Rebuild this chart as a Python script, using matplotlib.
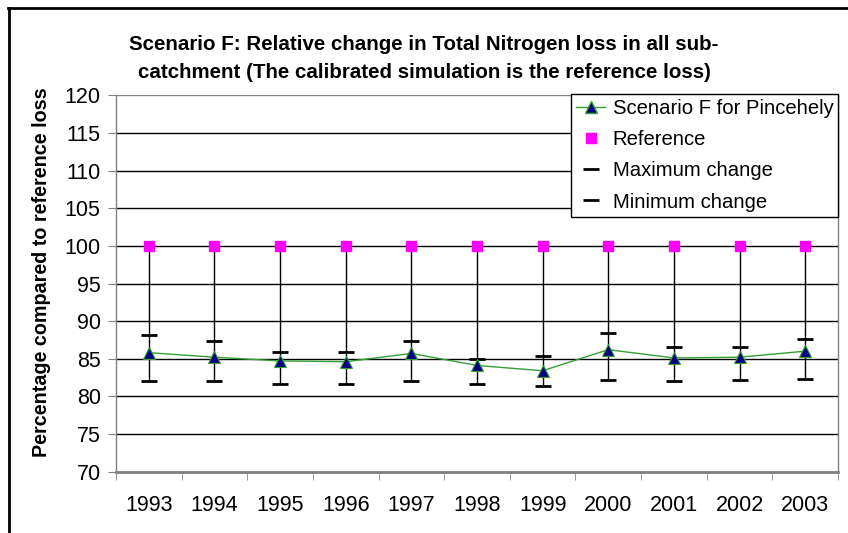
import matplotlib
matplotlib.use("Agg")
import matplotlib.pyplot as plt
from matplotlib.lines import Line2D
import numpy as np

plt.rcParams['font.family'] = ['Liberation Sans', 'DejaVu Sans']

years = ['1993', '1994', '1995', '1996', '1997', '1998', '1999', '2000', '2001', '2002', '2003']
scenario_f = [85.8, 85.2, 84.7, 84.6, 85.7, 84.1, 83.4, 86.2, 85.1, 85.2, 86.0]
reference = [100, 100, 100, 100, 100, 100, 100, 100, 100, 100, 100]
max_change = [88.2, 87.4, 85.9, 85.9, 87.4, 85.0, 85.3, 88.4, 86.5, 86.5, 87.6]
min_change = [82.0, 82.0, 81.6, 81.7, 82.1, 81.6, 81.4, 82.2, 82.0, 82.2, 82.3]
yticks = [70, 75, 80, 85, 90, 95, 100, 105, 110, 115, 120]

fig = plt.figure(figsize=(8.48, 5.33), dpi=100)
ax = fig.add_axes([116/848, 1-471.5/533, (838-116)/848, (471.5-95.5)/533])

x = np.arange(len(years))

# grid
for v in yticks:
    ax.axhline(v, color='#000000' if v not in (70, 120) else '#808080', lw=1.0, zorder=0)

# high-low lines
highs = [max(r, m) for r, m in zip(reference, max_change)]
ax.vlines(x, min_change, highs, color='black', lw=1.0, zorder=2)

ax.plot(x, max_change, linestyle='none', marker='_', markersize=12, mew=2, color='black', zorder=3)
ax.plot(x, min_change, linestyle='none', marker='_', markersize=12, mew=2, color='black', zorder=3)
ax.plot(x, reference, linestyle='none', marker='s', markersize=6.5, color='#FF00FF', mec='#FF00FF', zorder=4)
ax.plot(x, scenario_f, color='#33A033', lw=1.0, marker='^', markersize=8,
        mfc='#000080', mec='#33A033', mew=0.8, zorder=5)

ax.set_xlim(-0.5, len(years) - 0.5)
ax.set_ylim(70, 120)
ax.set_yticks(yticks)
ax.set_yticklabels([str(v) for v in yticks], fontsize=15.5)
ax.set_xticks(x)
ax.set_xticklabels(years, fontsize=15.5)
ax.tick_params(axis='x', which='major', length=0, pad=17)
ax.set_xticks(np.arange(-0.5, len(years), 1.0), minor=True)
ax.tick_params(axis='x', which='minor', length=6, color='#808080', direction='out')
ax.tick_params(axis='y', length=6, color='#808080', direction='out', pad=5)

for s in ['top']:
    ax.spines[s].set_visible(False)
for s in ['left', 'right', 'bottom']:
    ax.spines[s].set_color('#808080')
ax.spines['bottom'].set_linewidth(2)
ax.spines['left'].set_linewidth(1)
ax.spines['right'].set_linewidth(1)

fig.text(424/848, 1-45/533, 'Scenario F: Relative change in Total Nitrogen loss in all sub-',
         ha='center', va='center', fontsize=14.8, fontweight='bold')
fig.text(424/848, 1-73/533, 'catchment (The calibrated simulation is the reference loss)',
         ha='center', va='center', fontsize=14.8, fontweight='bold')
fig.text(42/848, 1-272/533, 'Percentage compared to reference loss', rotation=90,
         ha='center', va='center', fontsize=14.2, fontweight='bold')

handles = [
    Line2D([], [], color='#33A033', lw=1.0, marker='^', markersize=8, mfc='#000080', mec='#33A033'),
    Line2D([], [], linestyle='none', marker='s', markersize=6.5, color='#FF00FF'),
    Line2D([], [], linestyle='none', marker='_', markersize=12, mew=2, color='black'),
    Line2D([], [], linestyle='none', marker='_', markersize=12, mew=2, color='black'),
]
labels = ['Scenario F for Pincehely', 'Reference', 'Maximum change', 'Minimum change']
leg = fig.legend(handles, labels, loc='upper left', bbox_to_anchor=(571/848, 1-94/533),
                 fontsize=14.6, frameon=True, fancybox=False, framealpha=1, edgecolor='black',
                 borderpad=0.25, labelspacing=0.6, handlelength=1.45, handletextpad=0.35,
                 borderaxespad=0)
leg.get_frame().set_linewidth(1.0)

# outer border (left and top)
fig.add_artist(Line2D([9/848, 9/848], [0, 1-8/533], color='black', lw=2, transform=fig.transFigure))
fig.add_artist(Line2D([8/848, 1], [1-8/533, 1-8/533], color='black', lw=2, transform=fig.transFigure))

fig.savefig('out.png', dpi=100)
